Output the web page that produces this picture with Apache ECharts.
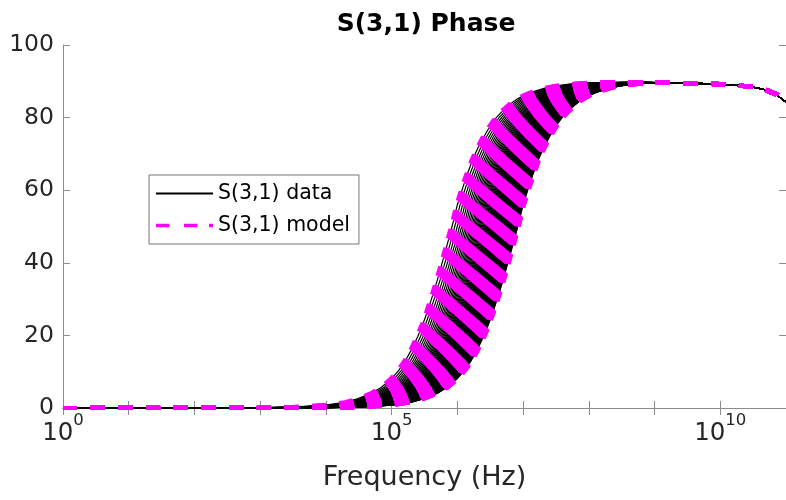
<!DOCTYPE html>
<html><head><meta charset="utf-8">
<script src="https://cdn.jsdelivr.net/npm/echarts@6/dist/echarts.min.js"></script>
<style>html,body{margin:0;padding:0;background:#fff}#c{width:786px;height:500px}</style>
</head><body><div id="c"></div>
<script>
const chartTitle = 'S(3,1) Phase';
const xAxisName = 'Frequency (Hz)';
const seriesNames = ['S(3,1) data', 'S(3,1) model'];
const xTickFreqHz = [1, 1e1, 1e2, 1e3, 1e4, 1e5, 1e6, 1e7, 1e8, 1e9, 1e10, 1e11];
const xLabelFreqHz = [1, 1e5, 1e10];

// leftmost curve of the family (corner near 0.70 MHz)
const baseFreqHz = [1e3, 3e3, 1e4, 2e4, 3e4, 5e4, 7e4, 1e5, 1.3e5, 1.6e5, 2e5, 2.5e5, 3e5, 3.5e5,
  4e5, 4.5e5, 5e5, 6e5, 7e5, 8e5, 9e5, 1e6, 1.2e6, 1.4e6, 1.7e6, 2e6, 2.5e6, 3e6, 3.5e6, 4e6,
  5e6, 6e6, 7e6, 8.5e6, 1e7, 1.3e7, 1.7e7, 2.2e7, 3e7, 5e7, 1e8, 3e8];
const basePhaseDeg = [0.08, 0.25, 0.8, 1.6, 2.5, 4.1, 5.7, 8.1, 10.5, 12.9, 16.0, 19.7, 23.2, 26.6,
  29.8, 32.7, 35.5, 40.6, 45.0, 48.9, 52.5, 56.0, 60.5, 64.2, 68.3, 71.2, 74.6, 77.0, 78.8, 80.2,
  82.0, 83.3, 84.3, 85.3, 86.0, 86.9, 87.6, 88.2, 88.7, 89.2, 89.6, 89.7];

// common high-frequency roll-off shared by all curves
const tailFreqHz = [1e9, 3.16e9, 1e10, 1.78e10, 3.16e10, 5.01e10, 7.08e10, 1e11];
const tailPhaseDeg = [89.6, 89.5, 89.2, 88.9, 88.4, 87.6, 86.4, 84.2];

// corner frequencies of the plotted family (MHz)
const cornerFreqMHz = [0.70, 0.77, 0.84, 0.91, 0.98, 1.05, 1.12, 1.19, 1.26, 1.33, 1.40, 1.47, 1.54,
  1.61, 1.68, 1.75, 1.82, 1.89, 1.96, 2.03, 2.10, 2.17, 2.24, 2.31, 2.38, 2.45, 2.52, 2.59, 2.66,
  2.73, 2.80, 2.87, 2.94, 3.01, 3.08, 3.15, 3.22, 3.29, 3.36, 3.43, 3.50, 3.57, 3.64, 3.71, 3.78,
  3.85, 3.92, 3.99, 4.06, 4.13, 4.20, 4.27, 4.34, 4.41, 4.48, 4.55, 4.62, 4.69, 4.76, 4.83, 4.90,
  4.97, 5.04, 5.11, 5.18, 5.25, 5.32, 5.39, 5.46, 5.53, 5.60, 5.67, 5.74, 5.81, 5.88, 5.95, 6.02,
  6.09, 6.16, 6.23, 6.30, 6.37, 6.44, 6.51, 6.58, 6.65, 6.72, 6.79, 6.86, 6.93, 7.00];

const FONT = 'DejaVu Sans';
const AX = '#8c8c8c';
const TXT = '#262626';
const MAGENTA = '#ff00ff';
const DASH_XSCALE = 1.45;   // dash pattern measured with horizontal distance weighted less

function curvePoints(cMHz) {
  const ratio = cMHz / cornerFreqMHz[0];
  const pts = [[1, 0]];
  for (let j = 0; j < baseFreqHz.length; j++) {
    const f = baseFreqHz[j] * ratio;
    if (f < tailFreqHz[0]) pts.push([f, basePhaseDeg[j]]);
  }
  for (let k = 0; k < tailFreqHz.length; k++) pts.push([tailFreqHz[k], tailPhaseDeg[k]]);
  return pts;
}

function dashedRenderer(points) {
  return function (params, api) {
    if (params.dataIndex !== 0) return null;
    const local = points.map(p => {
      const c = api.coord(p);
      return [c[0] / DASH_XSCALE, c[1]];
    });
    return {
      type: 'polyline', silent: true, scaleX: DASH_XSCALE,
      shape: { points: local },
      style: {
        stroke: MAGENTA, fill: 'none', lineWidth: 4.2, lineCap: 'butt', lineJoin: 'round',
        lineDash: [14 / DASH_XSCALE, 13.7 / DASH_XSCALE]
      }
    };
  };
}

const series = [];
cornerFreqMHz.forEach(c => series.push({
  name: seriesNames[0], type: 'line', data: curvePoints(c), symbol: 'none', silent: true,
  smooth: false, z: 2,
  lineStyle: { color: '#000000', width: 1.2 }, itemStyle: { color: '#000000' }
}));
cornerFreqMHz.forEach(c => {
  const pts = curvePoints(c);
  series.push({
    name: seriesNames[1], type: 'custom', data: pts, silent: true, z: 5,
    itemStyle: { color: MAGENTA },
    renderItem: dashedRenderer(pts)
  });
});

function xLabel(v) {
  const e = Math.round(Math.log10(v));
  return '{b|10}{s|' + e + '}';
}

const tickStyle = { inside: true, length: 7, lineStyle: { color: AX, width: 1 } };
const lineStyle = { lineStyle: { color: AX, width: 1 } };
const hiddenSym = { color: 'rgba(0,0,0,0)', opacity: 0, borderWidth: 0 };

const option = {
  animation: false,
  backgroundColor: '#ffffff',
  title: {
    text: chartTitle, left: 421, top: 7, textAlign: 'center',
    textStyle: { fontFamily: FONT, fontSize: 25, fontWeight: 'bold', color: '#000' }
  },
  grid: { left: 63, right: -3, top: 45, bottom: 92, containLabel: false },
  legend: {
    orient: 'vertical', left: 149, top: 175, z: 10,
    itemWidth: 57, itemHeight: 20, itemGap: 11,
    padding: [8, 9, 8, 6],
    borderColor: '#777', borderWidth: 1, backgroundColor: '#fff',
    textStyle: { fontFamily: FONT, fontSize: 20.5, color: '#000' },
    data: [
      { name: seriesNames[0], lineStyle: { width: 2 }, itemStyle: hiddenSym },
      { name: seriesNames[1], icon: 'path://M0 0H13.5V3.3H0Z M28 0H41.5V3.3H28Z M53 0H57V3.3H53Z',
        itemStyle: { color: MAGENTA, borderWidth: 0 } }
    ]
  },
  xAxis: [
    {
      type: 'log', logBase: 10, min: 1, max: 1e11, position: 'bottom',
      axisLine: lineStyle,
      axisTick: Object.assign({ customValues: xTickFreqHz }, tickStyle),
      splitLine: { show: false }, minorTick: { show: false },
      axisLabel: {
        customValues: xLabelFreqHz,
        formatter: xLabel, margin: 4,
        rich: {
          b: { fontFamily: FONT, fontSize: 24.5, color: TXT, lineHeight: 34, verticalAlign: 'bottom' },
          s: { fontFamily: FONT, fontSize: 16.5, color: TXT, lineHeight: 16, verticalAlign: 'top' }
        }
      },
      name: xAxisName, nameLocation: 'middle', nameGap: 56,
      nameTextStyle: { fontFamily: FONT, fontSize: 27, color: TXT }
    },
    {
      type: 'log', logBase: 10, min: 1, max: 1e11, position: 'top',
      axisLine: lineStyle,
      axisTick: Object.assign({ customValues: xTickFreqHz }, tickStyle),
      axisLabel: { show: false }, splitLine: { show: false }, minorTick: { show: false }
    }
  ],
  yAxis: [
    {
      type: 'value', min: 0, max: 100, interval: 20, position: 'left',
      axisLine: Object.assign({ show: true }, lineStyle), axisTick: Object.assign({ show: true }, tickStyle),
      splitLine: { show: false },
      axisLabel: { fontFamily: FONT, fontSize: 23.5, color: TXT, margin: 9 }
    },
    {
      type: 'value', min: 0, max: 100, interval: 20, position: 'right',
      axisLine: Object.assign({ show: true }, lineStyle), axisTick: Object.assign({ show: true }, tickStyle),
      splitLine: { show: false }, axisLabel: { show: false }
    }
  ],
  series: series
};

const chart = echarts.init(document.getElementById('c'), null, { renderer: 'canvas' });
chart.setOption(option);
</script>
</body></html>
